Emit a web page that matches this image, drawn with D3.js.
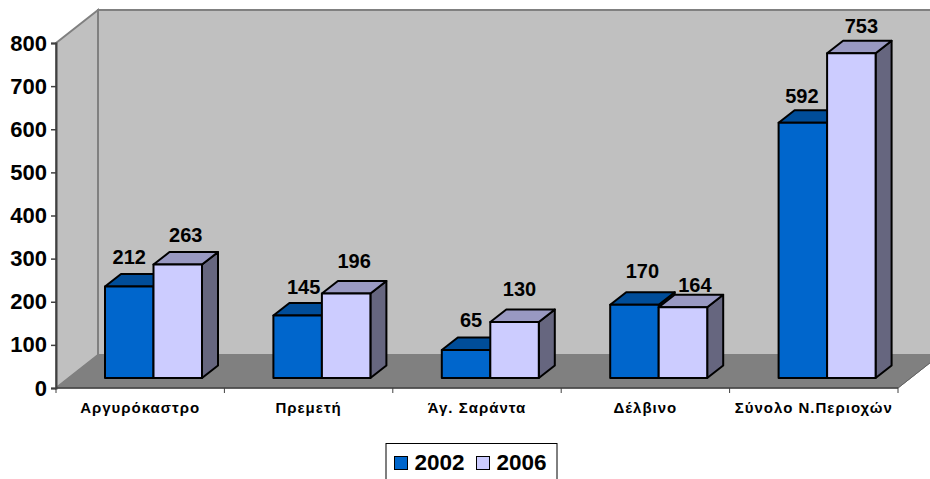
<!DOCTYPE html>
<html><head><meta charset="utf-8">
<script src="https://cdn.jsdelivr.net/npm/d3@7/dist/d3.min.js"></script>
<style>html,body{margin:0;padding:0;background:#fff;overflow:hidden}svg{display:block}text{font-family:"Liberation Sans",Arial,sans-serif;font-weight:bold;fill:#000}</style>
</head><body><svg id="c" width="930" height="479"></svg>
<script>
const categories = ["Αργυρόκαστρο","Πρεμετή","Άγ. Σαράντα","Δέλβινο","Σύνολο Ν.Περιοχών"];
const seriesNames = ["2002","2006"];
const values2002 = [212,145,65,170,592];
const values2006 = [263,196,130,164,753];
const yTicks = [0,100,200,300,400,500,600,700,800];
const nudge2002 = [[0,-30],[6,-28],[5,-30],[8,-34],[-1,-27]];
const nudge2006 = [[8,-30],[8,-32],[5,-33],[12,-22],[10,-27]];

const svg = d3.select("#c");
const X0=56, X1=898, Y0=388, Y1=43, DX=42, DY=-33;
const y = d3.scaleLinear().domain([0,800]).range([Y0,Y1]);
const x = d3.scaleBand().domain(categories).range([X0,X1]);
const poly = pts => pts.map(p=>p.join(",")).join(" ");

// walls & floor
svg.append("polygon").attr("points",poly([[X0+DX,Y1+DY],[X1+DX+10,Y1+DY],[X1+DX+10,Y0+DY],[X0+DX,Y0+DY]])).attr("fill","#c0c0c0").attr("stroke","#808080").attr("stroke-width",2);
svg.append("polygon").attr("points",poly([[X0,Y1],[X0+DX,Y1+DY],[X0+DX,Y0+DY],[X0,Y0]])).attr("fill","#c0c0c0").attr("stroke","#808080").attr("stroke-width",2);
svg.append("polygon").attr("points",poly([[X0,Y0],[X1,Y0],[X1+DX,Y0+DY],[X0+DX,Y0+DY]])).attr("fill","#808080").attr("stroke","#808080").attr("stroke-width",1);

// axes
const gy = svg.append("g").attr("transform",`translate(${X0},0)`).call(d3.axisLeft(y).tickValues(yTicks).tickSize(5).tickPadding(4).tickFormat(d3.format("d")));
gy.select(".domain").attr("stroke","#404040").attr("stroke-width",2);
gy.selectAll("line").attr("stroke","#404040").attr("stroke-width",1.5);
gy.selectAll("text").style("font-size","22px").style("font-family",'"Liberation Sans",Arial,sans-serif').style("font-weight","bold").attr("fill","#000");

svg.append("line").attr("x1",X0).attr("x2",X1).attr("y1",Y0).attr("y2",Y0).attr("stroke","#404040").attr("stroke-width",1.5);
svg.append("line").attr("x1",X1).attr("x2",X1+DX).attr("y1",Y0).attr("y2",Y0+DY).attr("stroke","#606060").attr("stroke-width",1);
const bounds = d3.range(categories.length+1).map(i=>X0+i*x.step());
svg.selectAll(".xt").data(bounds).join("line").attr("x1",d=>d).attr("x2",d=>d).attr("y1",Y0).attr("y2",Y0+5).attr("stroke","#404040").attr("stroke-width",1);
svg.selectAll(".xl").data(categories).join("text")
  .attr("x",d=>x(d)+x.bandwidth()/2).attr("y",413).attr("text-anchor","middle")
  .style("font-size","15px").style("letter-spacing","1px").text(d=>d);

// 3D bars
const BASE=10, BX=49, BW=48.5, DDX=16, DDY=-12.5;
const styles = [{front:"#0066cc",top:"#004d99",side:"#003d7a"},{front:"#ccccff",top:"#9999c2",side:"#66667f"}];
function bar(cat,s,v,i){
  const l = x(cat)+BX+s*BW, r=l+BW;
  const b = Y0-BASE, t = y(v)-BASE;
  const g = svg.append("g").attr("stroke","#000").attr("stroke-width",2).attr("stroke-linejoin","round");
  g.append("polygon").attr("points",poly([[r,b],[r+DDX,b+DDY],[r+DDX,t+DDY],[r,t]])).attr("fill",styles[s].side);
  g.append("polygon").attr("points",poly([[l,t],[r,t],[r+DDX,t+DDY],[l+DDX,t+DDY]])).attr("fill",styles[s].top);
  g.append("rect").attr("x",l).attr("y",t).attr("width",BW).attr("height",b-t).attr("fill",styles[s].front);
}
const series=[values2002,values2006], nudges=[nudge2002,nudge2006];
categories.forEach((c,i)=>{ bar(c,0,values2002[i],i); bar(c,1,values2006[i],i); });
series.forEach((vals,s)=>{
  svg.append("g").selectAll("text").data(vals).join("text")
    .attr("x",(d,i)=>x(categories[i])+BX+s*BW+BW/2+nudges[s][i][0])
    .attr("y",(d,i)=>y(d)-BASE+nudges[s][i][1]+7)
    .attr("text-anchor","middle").style("font-size","20px").text(d=>d);
});

// legend
svg.append("rect").attr("x",386).attr("y",443.5).attr("width",171).attr("height",36).attr("fill","#fff").attr("stroke","#000").attr("stroke-width",1);
const lg = d3.scaleOrdinal().domain(seriesNames).range([394,476]);
const lgG = svg.append("g").selectAll("g").data(seriesNames).join("g").attr("transform",d=>`translate(${lg(d)},0)`);
lgG.append("rect").attr("x",0.5).attr("y",456.5).attr("width",13).attr("height",13).attr("fill",(d,i)=>styles[i].front).attr("stroke","#000").attr("stroke-width",1);
lgG.append("text").attr("x",20.5).attr("y",469.5).style("font-size","22.5px").text(d=>d);
</script></body></html>
